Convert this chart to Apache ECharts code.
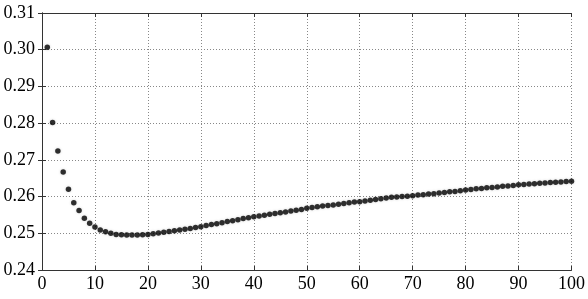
<!DOCTYPE html>
<html><head><meta charset="utf-8">
<script src="https://cdn.jsdelivr.net/npm/echarts@6/dist/echarts.min.js"></script>
<style>html,body{margin:0;padding:0;background:#fff}#c{width:588px;height:299px}</style>
</head><body><div id="c"></div>
<script>
const xValues = [];
for (let i = 1; i <= 100; i++) xValues.push(i);
const yValues = [
0.3007,0.2802,0.2724,0.2667,0.2620,0.2583,0.2562,0.2541,0.2527,0.2517,
0.2509,0.2504,0.2500,0.2497,0.2496,0.2495,0.2495,0.2495,0.2496,0.2497,
0.2499,0.2501,0.2503,0.2505,0.2507,0.2509,0.2511,0.2513,0.2516,0.2518,
0.2521,0.2524,0.2526,0.2529,0.2532,0.2534,0.2537,0.2540,0.2542,0.2545,
0.2547,0.2549,0.2552,0.2554,0.2556,0.2558,0.2561,0.2563,0.2565,0.2568,
0.2570,0.2572,0.2574,0.2576,0.2577,0.2579,0.2581,0.2583,0.2585,0.2586,
0.2588,0.2590,0.2592,0.2594,0.2596,0.2598,0.2599,0.2600,0.2601,0.2602,
0.2604,0.2605,0.2607,0.2608,0.2610,0.2611,0.2613,0.2614,0.2616,0.2618,
0.2619,0.2621,0.2622,0.2624,0.2625,0.2626,0.2628,0.2629,0.2630,0.2632,
0.2633,0.2634,0.2635,0.2636,0.2637,0.2638,0.2639,0.2640,0.2641,0.2642
];
const xTicks = [0,10,20,30,40,50,60,70,80,90,100];
const yTicks = [0.24,0.25,0.26,0.27,0.28,0.29,0.30,0.31];

const font = {fontFamily:'"Liberation Serif", "Times New Roman", serif', fontSize:18, color:'#000'};
const chart = echarts.init(document.getElementById('c'), null, {renderer:'canvas'});
const lineStyle = {color:'#333', width:1};
chart.setOption({
  animation:false,
  grid:{left:42, right:16, top:13, bottom:29, containLabel:false},
  xAxis:[{
    type:'value', min:xTicks[0], max:xTicks[xTicks.length-1], interval:10,
    axisLine:{show:true, onZero:false, lineStyle},
    axisTick:{show:true, inside:true, length:4, lineStyle},
    axisLabel:{...font, margin:5, formatter:v=>String(v)},
    splitLine:{show:true, lineStyle:{type:[1,2], color:'#888', width:1}}
  },{
    type:'value', position:'top', min:0, max:100, interval:10,
    axisLine:{show:true, lineStyle}, axisTick:{show:true, inside:true, length:4, lineStyle},
    axisLabel:{show:false}, splitLine:{show:false}
  }],
  yAxis:[{
    type:'value', min:yTicks[0], max:yTicks[yTicks.length-1], interval:0.01,
    axisLine:{show:true, onZero:false, lineStyle},
    axisTick:{show:true, inside:true, length:4, lineStyle},
    axisLabel:{...font, margin:7, formatter:v=>v.toFixed(2)},
    splitLine:{show:true, lineStyle:{type:[1,2], color:'#888', width:1}}
  },{
    type:'value', position:'right', min:0.24, max:0.31, interval:0.01,
    axisLine:{show:true, lineStyle}, axisTick:{show:true, inside:true, length:4, lineStyle},
    axisLabel:{show:false}, splitLine:{show:false}
  }],
  series:[{
    type:'scatter', xAxisIndex:0, yAxisIndex:0,
    data:xValues.map((x,i)=>[x,yValues[i]]),
    symbol:'circle', symbolSize:5.5,
    itemStyle:{color:'#000', shadowColor:'rgba(0,0,0,0.2)', shadowBlur:3}
  }]
});
</script></body></html>
